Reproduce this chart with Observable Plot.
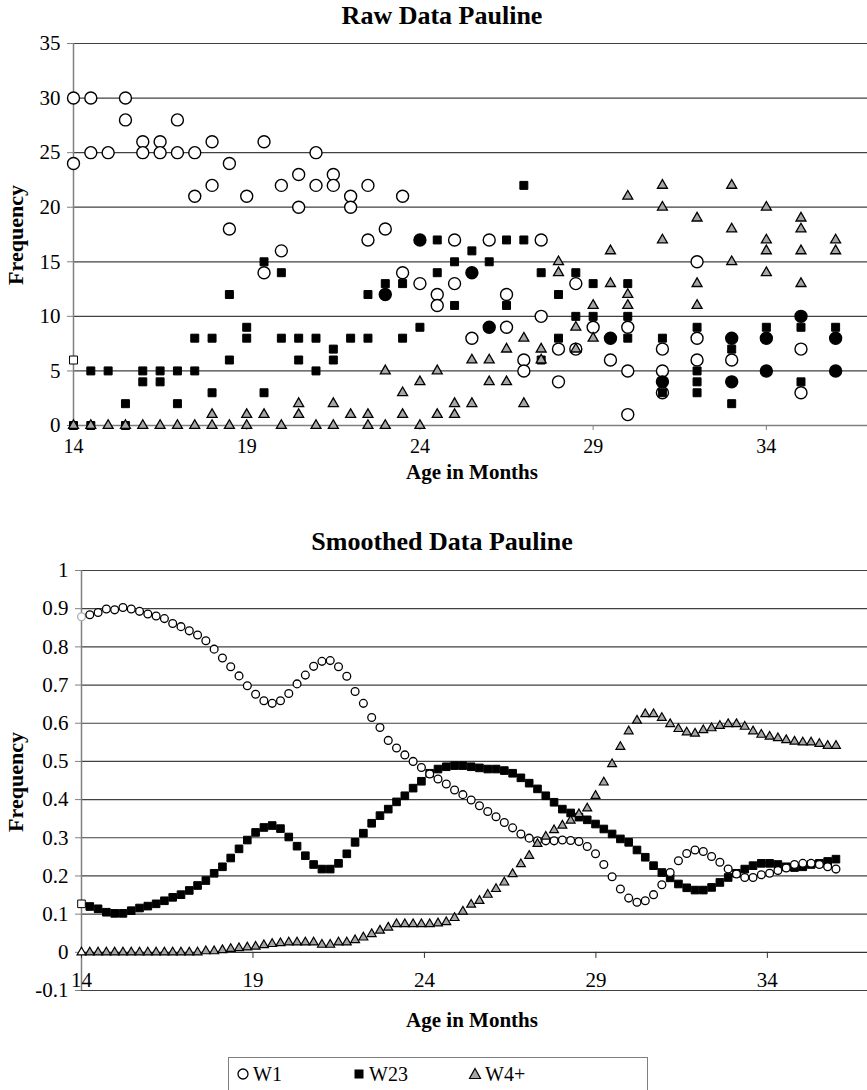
<!DOCTYPE html>
<html>
<head>
<meta charset="utf-8">
<script src="https://cdn.jsdelivr.net/npm/d3@7"></script>
<script src="https://cdn.jsdelivr.net/npm/@observablehq/plot@0.6"></script>
<style>
html,body{margin:0;padding:0;background:#fff;}
#root{position:relative;width:867px;height:1090px;overflow:hidden;font-family:"Liberation Serif","DejaVu Serif","Noto Serif",serif;color:#000;}
.lbl{position:absolute;white-space:nowrap;line-height:1;}
.plot{position:absolute;left:0;}
</style>
</head>
<body>
<div id="root"></div>
<script>
// ---------- Raw data (top chart) ----------
const rawAges = [14,14.5,15,15.5,16,16.5,17,17.5,18,18.5,19,19.5,20,20.5,21,21.5,22,22.5,23,23.5,24,24.5,25,25.5,26,26.5,27,27.5,28,28.5,29,29.5,30,31,32,33,34,35,36];
const rawW1 = [[30,24],[30,25],[25],[30,28],[26,25],[26,25],[28,25],[25,21],[26,22],[24,18],[21],[26,14],[22,16],[23,20],[25,22],[23,22],[21,20],[22,17],[18],[21,14],[13],[12,11],[17,13],[8],[17],[12,9],[6,5],[17,10],[7,4],[13,7],[9],[6],[9,5,1],[7,5,3],[15,8,6],[6],[],[7,3],[]];
const rawW1Filled = [[],[],[],[],[],[],[],[],[],[],[],[],[],[],[],[],[],[],[12],[],[17],[],[],[14],[9],[],[],[],[],[],[],[8],[],[4],[],[8,4],[8,5],[10],[8,5]];
const rawW23 = [[6,0],[5,0],[5],[2,0],[5,4],[5,4],[5,2],[8,5],[8,3],[12,6],[9,8],[15,3],[14,8],[8,6],[8,5],[7,6],[8],[12,8],[13],[13,8],[9],[17,14],[15,11],[16],[15],[17,11],[22,17],[14,6],[12,8],[14,10],[13,10],[],[13,10,8],[8,3],[9,5,4,3],[7,2],[9],[9,4],[9]];
const rawW4 = [[0],[0],[0],[0],[0],[0],[0],[0],[1,0],[0],[1,0],[1],[0],[2,1],[0],[2,0],[1],[1,0],[5,0],[3,1],[4,0],[5,1],[2,1],[6,2],[6,4],[7,4],[8,2],[7,6],[15,14],[9,7],[11,8],[16,13],[21,12,11],[22,20,17],[19,13,11],[22,18,15],[20,17,16,14],[19,18,16,13],[17,16]];
const rawYTicks = [0,5,10,15,20,25,30,35];

// ---------- Smoothed data (bottom chart) ----------
const smoothCount = 92; // evenly spaced ages from 14 to 36 months
const smoothW1 = [0.879,0.884,0.890,0.899,0.897,0.903,0.899,0.893,0.886,0.881,
  0.874,0.861,0.853,0.842,0.831,0.816,0.794,0.771,0.748,0.724,
  0.698,0.676,0.659,0.652,0.659,0.678,0.703,0.726,0.749,0.762,
  0.764,0.748,0.723,0.683,0.652,0.615,0.589,0.555,0.535,0.517,
  0.500,0.484,0.467,0.454,0.441,0.425,0.413,0.399,0.384,0.369,
  0.355,0.340,0.326,0.310,0.299,0.292,0.292,0.292,0.294,0.293,
  0.290,0.277,0.258,0.230,0.198,0.166,0.142,0.131,0.135,0.151,
  0.177,0.209,0.240,0.259,0.268,0.264,0.251,0.236,0.218,0.205,
  0.196,0.196,0.203,0.207,0.214,0.221,0.230,0.233,0.233,0.230,
  0.224,0.218];
const smoothW23 = [0.127,0.120,0.114,0.105,0.102,0.102,0.109,0.116,0.121,0.127,
  0.135,0.144,0.151,0.162,0.175,0.188,0.207,0.224,0.247,0.271,
  0.294,0.314,0.327,0.332,0.324,0.302,0.278,0.253,0.230,0.218,
  0.218,0.233,0.258,0.288,0.312,0.338,0.358,0.375,0.394,0.410,
  0.430,0.448,0.469,0.480,0.486,0.489,0.489,0.486,0.483,0.480,
  0.480,0.476,0.469,0.457,0.443,0.428,0.410,0.393,0.375,0.365,
  0.354,0.347,0.336,0.323,0.310,0.297,0.288,0.268,0.249,0.227,
  0.209,0.195,0.179,0.169,0.163,0.163,0.170,0.183,0.196,0.207,
  0.218,0.227,0.233,0.233,0.230,0.224,0.222,0.224,0.230,0.233,
  0.238,0.244];
const smoothW4 = [0,0,0,0,0,0,0,0,0,0,
  0,0,0,0,0,0.003,0.003,0.006,0.009,0.011,
  0.013,0.015,0.019,0.022,0.024,0.026,0.026,0.026,0.026,0.020,
  0.020,0.026,0.026,0.032,0.039,0.048,0.057,0.065,0.074,0.074,
  0.074,0.074,0.074,0.076,0.079,0.090,0.107,0.125,0.135,0.151,
  0.166,0.183,0.205,0.231,0.253,0.284,0.303,0.320,0.332,0.345,
  0.362,0.377,0.410,0.445,0.493,0.538,0.579,0.607,0.624,0.624,
  0.614,0.598,0.585,0.576,0.573,0.582,0.587,0.593,0.598,0.598,
  0.591,0.579,0.570,0.565,0.561,0.556,0.552,0.550,0.550,0.546,
  0.541,0.541];
const smoothYTicks = [-0.1,0,0.1,0.2,0.3,0.4,0.5,0.6,0.7,0.8,0.9,1];
const xTicks = [14,19,24,29,34];
const seriesNames = ["W1","W23","W4+"];

// ---------- build tables ----------
const flat = (groups) => rawAges.flatMap((a, i) => groups[i].map(v => ({age: a, freq: v})));
const tW1 = flat(rawW1), tW1F = flat(rawW1Filled), tW23 = flat(rawW23), tW4 = flat(rawW4);
const smoothAges = d3.range(smoothCount).map(i => 14 + i * 22 / (smoothCount - 1));
const sRows = (vals) => vals.map((v, i) => ({age: smoothAges[i], freq: v, first: i === 0}));
const sW1 = sRows(smoothW1), sW23 = sRows(smoothW23), sW4 = sRows(smoothW4);

const FONT = "'Liberation Serif', 'DejaVu Serif', 'Noto Serif', serif";
const GRID = "#404040", AXIS = "#808080", TRI = "#a6a6a6";
const root = document.getElementById("root");

function label(text, cx, baseline, size, bold, rotate) {
  const d = document.createElement("div");
  d.className = "lbl";
  d.textContent = text;
  d.style.fontSize = size + "px";
  d.style.fontWeight = bold ? "bold" : "normal";
  if (rotate) {
    d.style.left = cx + "px";
    d.style.top = baseline + "px";
    d.style.transform = "translate(-50%,-50%) rotate(-90deg)";
  } else {
    d.style.left = (cx - 300) + "px";
    d.style.width = "600px";
    d.style.textAlign = "center";
    d.style.top = (baseline - 0.8375 * size) + "px";
  }
  root.appendChild(d);
}

// ---------- top chart ----------
const plot1 = Plot.plot({
  width: 867, height: 480,
  marginTop: 43, marginBottom: 55, marginLeft: 73, marginRight: 0,
  x: {domain: [14, 36.92], axis: null},
  y: {domain: [0, 35], axis: null},
  color: {type: "identity"},
  style: {fontFamily: FONT, fontSize: "21px", background: "transparent", color: "#000", overflow: "visible"},
  marks: [
    Plot.ruleY(rawYTicks.filter(d => d > 0), {stroke: GRID, strokeWidth: 1.2}),
    Plot.ruleY([0], {stroke: AXIS, strokeWidth: 1.5}),
    Plot.ruleX([14], {stroke: AXIS, strokeWidth: 1.5}),
    Plot.axisY(rawYTicks, {tickSize: 6, tickPadding: 7, label: null, stroke: AXIS, fontSize: 21, fontFamily: FONT}),
    Plot.axisX(xTicks, {tickSize: 5, tickPadding: 8, label: null, stroke: AXIS, fontSize: 20, fontFamily: FONT}),
    Plot.dot(tW1, {x: "age", y: "freq", symbol: "circle", r: 6, fill: "white", stroke: "black", strokeWidth: 1.4}),
    Plot.dot(tW23, {x: "age", y: "freq", symbol: "square", r: 4.5, fill: (d, i) => i === 0 ? "white" : "black", stroke: "black", strokeWidth: 1}),
    Plot.dot(tW4, {x: "age", y: "freq", symbol: "triangle", r: 3.7, fill: TRI, stroke: "black", strokeWidth: 1.3}),
    Plot.dot(tW1F, {x: "age", y: "freq", symbol: "circle", r: 6, fill: "black", stroke: "black", strokeWidth: 1.4})
  ]
});
plot1.classList.add("plot");
plot1.style.top = "0px";
root.appendChild(plot1);

// ---------- bottom chart ----------
const plot2 = Plot.plot({
  width: 867, height: 440,
  marginTop: 10, marginBottom: 10, marginLeft: 81, marginRight: 0,
  x: {domain: [14, 36.92], axis: null},
  y: {domain: [-0.1, 1], axis: null},
  color: {type: "identity"},
  style: {fontFamily: FONT, fontSize: "21px", background: "transparent", color: "#000", overflow: "visible"},
  marks: [
    Plot.ruleY(smoothYTicks.filter(d => d !== 0), {stroke: GRID, strokeWidth: 1.2}),
    Plot.ruleY([0], {stroke: "#333", strokeWidth: 1.3}),
    Plot.ruleX([14], {stroke: AXIS, strokeWidth: 1.5}),
    Plot.axisY(smoothYTicks, {tickSize: 6, tickPadding: 7, label: null, stroke: AXIS, fontSize: 21, fontFamily: FONT,
      tickFormat: d => String(Math.round(d * 10) / 10)}),
    Plot.ruleX(xTicks, {x: d => d, y1: 0, y2: -0.016, stroke: "#333"}),
    Plot.text(xTicks, {x: d => d, y: -0.074, text: d => String(d), fontSize: 21, fontFamily: FONT, lineAnchor: "middle"}),
    Plot.dot(sW23, {x: "age", y: "freq", symbol: "square", r: 4.3, fill: d => d.first ? "white" : "black", stroke: "black", strokeWidth: 1}),
    Plot.dot(sW1, {x: "age", y: "freq", symbol: "circle", r: 3.9, fill: "white", stroke: d => d.first ? "#b0b0b0" : "black", strokeWidth: 1.3}),
    Plot.dot(sW4, {x: "age", y: "freq", symbol: "triangle", r: 3.3, fill: d => d.first ? "white" : TRI, stroke: "black", strokeWidth: 1.2})
  ]
});
plot2.classList.add("plot");
plot2.style.top = "560px";
root.appendChild(plot2);

// ---------- titles ----------
label("Raw Data Pauline", 442, 25, 26, true);
label("Age in Months", 472, 480, 21, true);
label("Frequency", 16, 235, 22, true, true);
label("Smoothed Data Pauline", 442, 551, 26, true);
label("Age in Months", 472, 1028, 21, true);
label("Frequency", 16, 782, 22, true, true);

// ---------- legend ----------
const leg = document.createElement("div");
leg.style.cssText = "position:absolute;left:228px;top:1057px;width:420px;height:40px;border:1px solid #7f7f7f;box-sizing:border-box;background:#fff;";
root.appendChild(leg);
const legSym = [
  '<circle cx="8" cy="8" r="5" fill="white" stroke="black" stroke-width="1.3"/>',
  '<rect x="3.5" y="3.5" width="9" height="9" fill="black"/>',
  '<path d="M8,2.5 L13.5,12.5 L2.5,12.5 Z" fill="' + TRI + '" stroke="black" stroke-width="1.2"/>'
];
const legX = [6, 122, 238];
seriesNames.forEach((name, i) => {
  const item = document.createElement("div");
  item.style.cssText = "position:absolute;top:6px;left:" + legX[i] + "px;display:flex;align-items:center;font-size:20px;line-height:1;";
  item.innerHTML = '<svg width="16" height="16" style="margin-right:2px">' + legSym[i] + '</svg><span>' + name + '</span>';
  leg.appendChild(item);
});
</script>
</body>
</html>
